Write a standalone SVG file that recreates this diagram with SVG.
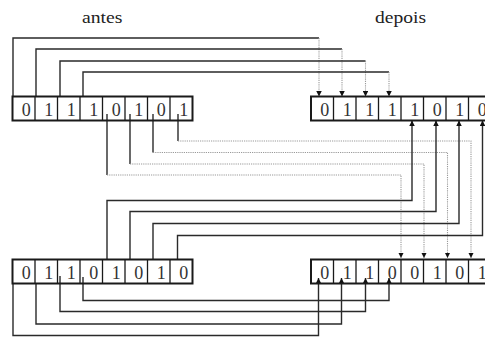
<svg xmlns="http://www.w3.org/2000/svg" width="485" height="338" viewBox="0 0 485 338">
  <style>
    .reg { fill: #fff; stroke: #1a1a1a; stroke-width: 2; }
    .div { stroke: #1a1a1a; stroke-width: 1.3; }
    .bit { font-family: "Liberation Serif", "Times New Roman", serif; font-size: 18px; fill: #333; text-anchor: middle; }
    .lbl { font-family: "Liberation Serif", "Times New Roman", serif; font-size: 17px; fill: #222; }
    .wire { fill: none; stroke: #2a2a2a; stroke-width: 1.4; }
    .dot { fill: none; stroke: #9a9a9a; stroke-width: 1.1; stroke-dasharray: 1.2 1; }
  </style>
  <defs>
    <marker id="arrow" viewBox="0 0 6 6" refX="6" refY="3" markerWidth="5.5" markerHeight="5.5" markerUnits="userSpaceOnUse" orient="auto">
      <path d="M0,0 L6,3 L0,6 z" fill="#111"/>
    </marker>
  </defs>

  <rect width="485" height="338" fill="#fff"/>

  <!-- column headings -->
  <text class="lbl" x="82" y="22.5" textLength="40.5" lengthAdjust="spacingAndGlyphs">antes</text>
  <text class="lbl" x="375" y="22.5" textLength="51" lengthAdjust="spacingAndGlyphs">depois</text>

  <!-- wiring between the registers -->
  <g id="connectors">
    <!-- upper-left bits 0..3 routed over the top to upper-right bits 0..3 -->
    <path class="wire" d="M13,96.5 V38 H319"/>
    <path class="dot" d="M319,38 V96.5" marker-end="url(#arrow)"/>
    <path class="wire" d="M36,96.5 V49 H342"/>
    <path class="dot" d="M342,49 V96.5" marker-end="url(#arrow)"/>
    <path class="wire" d="M60,96.5 V61 H365.5"/>
    <path class="dot" d="M365.5,61 V96.5" marker-end="url(#arrow)"/>
    <path class="wire" d="M83,96.5 V72 H389"/>
    <path class="dot" d="M389,72 V96.5" marker-end="url(#arrow)"/>

    <!-- upper-left bits 4..7 routed down to lower-right bits 4..7 -->
    <path class="wire" d="M107,114 V175"/>
    <path class="dot" d="M107,175 H401 V258" marker-end="url(#arrow)"/>
    <path class="wire" d="M130,114 V164"/>
    <path class="dot" d="M130,164 H424 V258" marker-end="url(#arrow)"/>
    <path class="wire" d="M153,114 V152.5"/>
    <path class="dot" d="M153,152.5 H447.5 V258" marker-end="url(#arrow)"/>
    <path class="wire" d="M178,114 V141"/>
    <path class="dot" d="M178,141 H471 V258" marker-end="url(#arrow)"/>

    <!-- lower-left bits 4..7 routed up to upper-right bits 4..7 -->
    <path class="wire" d="M107,259.5 V200.5 H412 V120.5" marker-end="url(#arrow)"/>
    <path class="wire" d="M130,259.5 V211.5 H436 V120.5" marker-end="url(#arrow)"/>
    <path class="wire" d="M153,259.5 V223.5 H459 V120.5" marker-end="url(#arrow)"/>
    <path class="wire" d="M177.5,259.5 V235.5 H482.5 V120.5" marker-end="url(#arrow)"/>

    <!-- lower-left bits 0..3 routed under the bottom to lower-right bits 0..3 -->
    <path class="wire" d="M13,283.5 V335.5 H318.5 V278" marker-end="url(#arrow)"/>
    <path class="wire" d="M36,283.5 V324 H341.5 V278" marker-end="url(#arrow)"/>
    <path class="wire" d="M60,276 V311.5 H365.5 V278" marker-end="url(#arrow)"/>
    <path class="wire" d="M83,277 V300.5 H389 V278" marker-end="url(#arrow)"/>
  </g>

  <!-- upper-left register (antes) -->
  <g id="antes-top">
    <rect class="reg" x="12.5" y="96.5" width="180" height="24" fill="none" style="fill:none"/>
    <path class="div" d="M35,96.5 V120.5 M57.5,96.5 V120.5 M80,96.5 V120.5 M102.5,96.5 V120.5 M125,96.5 V120.5 M147.5,96.5 V120.5 M170,96.5 V120.5"/>
    <text class="bit" x="26.25" y="115.5">0</text>
    <text class="bit" x="48.75" y="115.5">1</text>
    <text class="bit" x="71.25" y="115.5">1</text>
    <text class="bit" x="93.75" y="115.5">1</text>
    <text class="bit" x="116.25" y="115.5">0</text>
    <text class="bit" x="138.75" y="115.5">1</text>
    <text class="bit" x="161.25" y="115.5">0</text>
    <text class="bit" x="183.75" y="115.5">1</text>
  </g>

  <!-- upper-right register (depois) -->
  <g id="depois-top">
    <rect class="reg" x="311" y="96.5" width="180" height="24" style="fill:none"/>
    <path class="div" d="M333.5,96.5 V120.5 M356,96.5 V120.5 M378.5,96.5 V120.5 M401,96.5 V120.5 M423.5,96.5 V120.5 M446,96.5 V120.5 M468.5,96.5 V120.5"/>
    <text class="bit" x="324.75" y="115.5">0</text>
    <text class="bit" x="347.25" y="115.5">1</text>
    <text class="bit" x="369.75" y="115.5">1</text>
    <text class="bit" x="392.25" y="115.5">1</text>
    <text class="bit" x="414.75" y="115.5">1</text>
    <text class="bit" x="437.25" y="115.5">0</text>
    <text class="bit" x="459.75" y="115.5">1</text>
    <text class="bit" x="482.25" y="115.5">0</text>
  </g>

  <!-- lower-left register (antes) -->
  <g id="antes-bottom">
    <rect class="reg" x="12.5" y="259.5" width="180" height="24" style="fill:none"/>
    <path class="div" d="M35,259.5 V283.5 M57.5,259.5 V283.5 M80,259.5 V283.5 M102.5,259.5 V283.5 M125,259.5 V283.5 M147.5,259.5 V283.5 M170,259.5 V283.5"/>
    <text class="bit" x="26.25" y="278.5">0</text>
    <text class="bit" x="48.75" y="278.5">1</text>
    <text class="bit" x="71.25" y="278.5">1</text>
    <text class="bit" x="93.75" y="278.5">0</text>
    <text class="bit" x="116.25" y="278.5">1</text>
    <text class="bit" x="138.75" y="278.5">0</text>
    <text class="bit" x="161.25" y="278.5">1</text>
    <text class="bit" x="183.75" y="278.5">0</text>
  </g>

  <!-- lower-right register (depois) -->
  <g id="depois-bottom">
    <rect class="reg" x="311" y="259.5" width="180" height="24" style="fill:none"/>
    <path class="div" d="M333.5,259.5 V283.5 M356,259.5 V283.5 M378.5,259.5 V283.5 M401,259.5 V283.5 M423.5,259.5 V283.5 M446,259.5 V283.5 M468.5,259.5 V283.5"/>
    <text class="bit" x="324.75" y="278.5">0</text>
    <text class="bit" x="347.25" y="278.5">1</text>
    <text class="bit" x="369.75" y="278.5">1</text>
    <text class="bit" x="392.25" y="278.5">0</text>
    <text class="bit" x="414.75" y="278.5">0</text>
    <text class="bit" x="437.25" y="278.5">1</text>
    <text class="bit" x="459.75" y="278.5">0</text>
    <text class="bit" x="482.25" y="278.5">1</text>
  </g>
</svg>
